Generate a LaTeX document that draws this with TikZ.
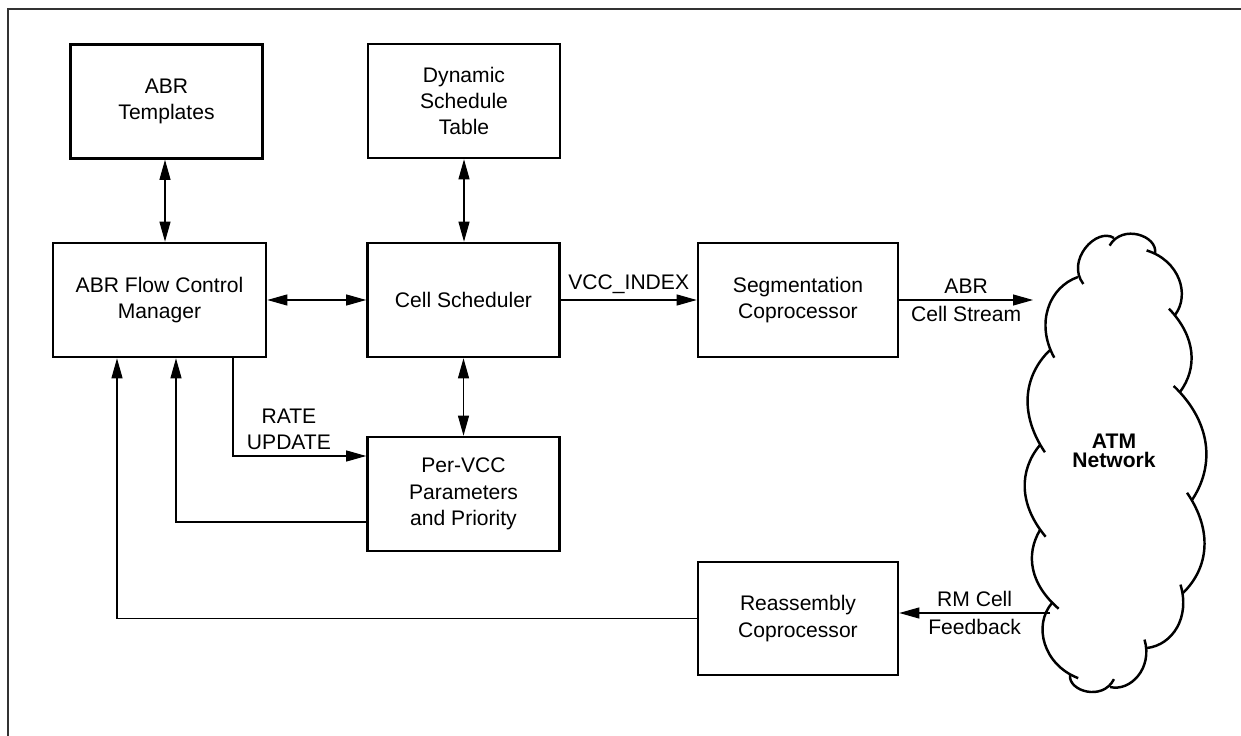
\documentclass[tikz,border=0pt]{standalone}
\usepackage{fontspec}
\setmainfont{Liberation Sans}
\usetikzlibrary{calc, arrows.meta, positioning}

\begin{document}
\begin{tikzpicture}[x=0.02cm, y=-0.02cm,
    every node/.style={font=\fontsize{12}{15}\selectfont},
    blockbox/.style={draw, line width=1.5pt, minimum width=3.84cm, minimum height=2.28cm, align=center, inner sep=2pt},
    link/.style={line width=0.6pt},
    >={Triangle[length=0.4cm, width=0.22cm]},
    cloudline/.style={line width=1.4pt, shorten <=-5pt}]
        \useasboundingbox (0,0) rectangle (1241,736);
        % frame
        \draw[line width=1.2pt, black!80] (1250,9) -- (8,9) -- (8,745);
        % blocks
        \node[blockbox] (tmpl) at (166.5,101.5) {ABR\\Templates};
        \node[blockbox] (dyn) at (464,101) {Dynamic\\Schedule\\Table};
        \node[blockbox, minimum width=4.26cm] (fcm) at (159.5,300) {ABR Flow Control\\Manager};
        \node[blockbox] (sched) at (463.5,300) {Cell Scheduler};
        \node[blockbox] (pervcc) at (463.5,494) {Per-VCC\\Parameters\\and Priority};
        \node[blockbox, minimum width=4cm] (seg) at (798,300) {Segmentation\\Coprocessor};
        \node[blockbox, minimum width=4cm, minimum height=2.26cm] (reasm) at (798,618.5) {Reassembly\\Coprocessor};
        % cloud
        \coordinate (c1) at (1078,277);  \coordinate (c2) at (1114,238);
        \coordinate (c3) at (1155,253);  \coordinate (c4) at (1175,315);
        \coordinate (c5) at (1180,392);  \coordinate (c6) at (1192,500);
        \coordinate (c7) at (1183,593);  \coordinate (c8) at (1147,648);
        \coordinate (c9) at (1110,687);  \coordinate (c10) at (1070,675);
        \coordinate (c11) at (1052,603); \coordinate (c12) at (1040,530);
        \coordinate (c13) at (1040,445); \coordinate (c14) at (1050,350);
        \foreach \a/\b/\bb in {c1/c2/80, c2/c3/80, c3/c4/55, c4/c5/40, c5/c6/40, c6/c7/40,
                               c7/c8/50, c8/c9/60, c9/c10/80, c10/c11/55, c11/c12/40,
                               c12/c13/40, c13/c14/40, c14/c1/50} {
          \draw[cloudline] (\a) to[bend left=\bb] (\b);
        }
        \node[font=\bfseries\fontsize{12}{11}\selectfont, align=center] (atm) at (1114,451) {ATM\\Network};
        \coordinate (abrend) at (1033,300);
        \coordinate (rmstart) at (1050,613);
        % connectors
        \draw[link, <->] (tmpl.south -| 165,0) -- (fcm.north -| 165,0);
        \draw[link, <->] (dyn.south) -- (dyn.south |- sched.north);
        \draw[link, <->] (fcm.east) -- (sched.west);
        \draw[link, ->] (sched.east) -- node[above] {VCC\_INDEX} (seg.west);
        \draw[link, <->] (sched.south) -- (pervcc.north);
        \draw[link, ->] (seg.east) -- node[above] {ABR} node[below] {Cell Stream} (abrend);
        \draw[link, ->] (fcm.south -| 233,0) |- node[pos=0.71, above, align=center] {RATE\\UPDATE} (pervcc.west |- 0,456);
        \draw[link, ->] (pervcc.west |- 0,522) -| (fcm.south -| 176,0);
        \draw[link, ->] (rmstart) -- node[above] {RM Cell} node[below] {Feedback} (reasm.east |- rmstart);
        \draw[link, ->] (reasm.west) -| (fcm.south -| 117,0);
\end{tikzpicture}
\end{document}
